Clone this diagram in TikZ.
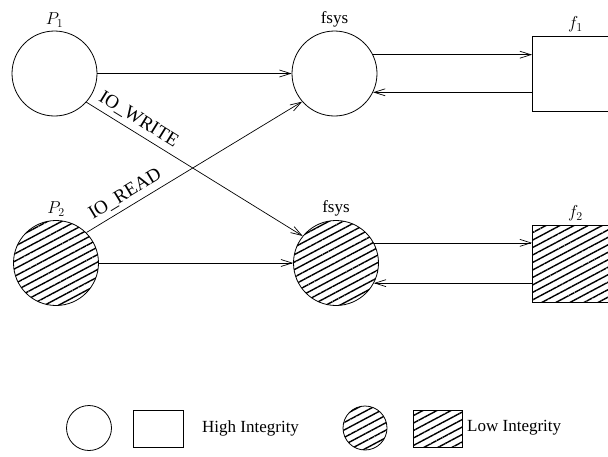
\documentclass[tikz,border=0pt]{standalone}
\usepackage{fontspec}
\setmainfont{Liberation Serif}
\usetikzlibrary{arrows.meta,patterns.meta}
\begin{document}
\begin{tikzpicture}[x=1pt,y=-1pt,
  every node/.style={font=\fontsize{17}{20}\selectfont},
  proc/.style={draw,circle,line width=0.8pt,minimum size=85pt,inner sep=0pt},
  filebox/.style={draw,rectangle,line width=0.8pt,minimum width=86pt,inner sep=0pt},
  low/.style={pattern={Lines[angle=28,distance=6.6pt,line width=1.4pt]}},
  flow/.style={line width=0.7pt,-{Straight Barb[length=11pt,width=7pt,line width=0.7pt]}},
  iolbl/.style={sloped,above,inner sep=5pt,font=\fontsize{19}{22}\selectfont},
  lbl/.style={label distance=1pt}]
\useasboundingbox (0,0) rectangle (608,456);
\clip (0,0) rectangle (608,456);
% top row
\node[proc,lbl,label=above:{$P_1$}] (p1) at (54.5,73.5) {};
\node[proc,lbl,label=above:{fsys}] (fs1) at (334.5,73.5) {};
\node[filebox,minimum height=75pt,anchor=west,lbl,label=above:{$f_1$}] (f1) at (532,73.5) {};
% bottom row
\node[proc,low,lbl,label=above:{$P_2$}] (p2) at (56,263) {};
\node[proc,low,lbl,label=above:{fsys}] (fs2) at (336,263) {};
\node[filebox,low,minimum height=77pt,anchor=west,lbl,label=above:{$f_2$}] (f2) at (532,263.5) {};
% connectors
\draw[flow] (p1.east) -- (fs1.west);
\draw[flow] (p2.east) -- (fs2.west);
\draw[flow] (fs1.26) -- (fs1.26 -| f1.west);
\draw[flow] (fs1.-26 -| f1.west) -- (fs1.-26);
\draw[flow] (fs2.28) -- (fs2.28 -| f2.west);
\draw[flow] (fs2.-28 -| f2.west) -- (fs2.-28);
\draw[flow] (p1.-42) -- node[pos=0.21,iolbl] (lw) {IO\_WRITE} (fs2.141);
\draw[flow] (p2.45) -- node[pos=0.21,iolbl] (lr) {IO\_READ} (fs1.-139.5);
% legend
\node[draw,circle,line width=0.8pt,minimum size=45pt,inner sep=0pt] (lc1) at (89,428) {};
\node[draw,rectangle,line width=0.8pt,minimum width=50pt,minimum height=37pt,inner sep=0pt] (lr1) at (158,428.5) {};
\node[anchor=west,inner sep=0pt] (lt1) at (202,428) {High Integrity};
\node[draw,circle,low,line width=0.8pt,minimum size=44pt,inner sep=0pt] (lc2) at (365,428) {};
\node[draw,rectangle,low,line width=0.8pt,minimum width=49pt,minimum height=37pt,inner sep=0pt] (lr2) at (437.5,428.5) {};
\node[anchor=west,inner sep=0pt] (lt2) at (467,428) {Low Integrity};
\end{tikzpicture}
\end{document}
